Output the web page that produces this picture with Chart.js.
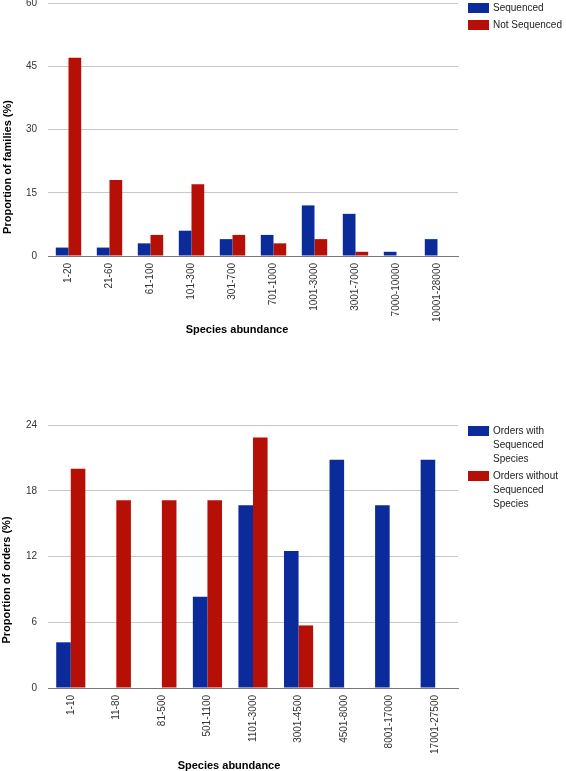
<!DOCTYPE html>
<html>
<head>
<meta charset="utf-8">
<script src="https://cdn.jsdelivr.net/npm/chart.js@4"></script>
<style>
  body { margin: 0; background: #fff; font-family: "Liberation Sans", Arial, sans-serif; }
  #page { position: relative; width: 566px; height: 771px; overflow: hidden; }
  canvas { position: absolute; left: 0; }
  .ytitle, .xtitle { position: absolute; font-weight: bold; font-size: 11px; color: #000; white-space: nowrap; }
  .ytitle { transform: translate(-50%, -50%) rotate(-90deg); }
  .xtitle { transform: translate(-50%, -50%); }
  .legend { position: absolute; left: 468px; font-size: 10px; color: #222; }
  .legend .item { position: relative; padding-left: 25px; line-height: 14px; }
  .legend .swatch { position: absolute; left: 0; top: 2px; width: 21px; height: 10px; }
</style>
</head>
<body>
<div id="page">
  <canvas id="families" width="566" height="359" style="top:-14px"></canvas>
  <canvas id="orders" width="566" height="371" style="top:400px"></canvas>

  <div class="ytitle" style="left:7px; top:167px">Proportion of families (%)</div>
  <div class="xtitle" style="left:237px; top:329px">Species abundance</div>
  <div class="legend" style="top:1px">
    <div class="item" style="margin-bottom:3px"><span class="swatch" style="background:#0c2b9b"></span>Sequenced</div>
    <div class="item"><span class="swatch" style="background:#b50f06"></span>Not Sequenced</div>
  </div>

  <div class="ytitle" style="left:6px; top:580px">Proportion of orders (%)</div>
  <div class="xtitle" style="left:229px; top:765px">Species abundance</div>
  <div class="legend" style="top:424px">
    <div class="item" style="margin-bottom:3px"><span class="swatch" style="background:#0c2b9b"></span>Orders with<br>Sequenced<br>Species</div>
    <div class="item"><span class="swatch" style="background:#b50f06"></span>Orders without<br>Sequenced<br>Species</div>
  </div>
</div>

<script>
const familyAbundance = ["1-20", "21-60", "61-100", "101-300", "301-700", "701-1000", "1001-3000", "3001-7000", "7000-10000", "10001-28000"];
const familiesSequenced = [2, 2, 3, 6, 4, 5, 12, 10, 1, 4];
const familiesNotSequenced = [47, 18, 5, 17, 5, 3, 4, 1, 0, 0];

const orderAbundance = ["1-10", "11-80", "81-500", "501-1100", "1101-3000", "3001-4500", "4501-8000", "8001-17000", "17001-27500"];
const ordersWithSequenced = [4.17, 0, 0, 8.33, 16.67, 12.5, 20.83, 16.67, 20.83];
const ordersWithoutSequenced = [20, 17.14, 17.14, 17.14, 22.86, 5.71, 0, 0, 0];

const BLUE = "#0c2b9b";
const RED = "#b50f06";
const FONT = { family: "'Liberation Sans', Arial, sans-serif", size: 10 };

function makeChart(canvas, labels, blueData, redData, blueLabel, redLabel, opts) {
  return new Chart(canvas, {
    type: "bar",
    data: {
      labels: labels,
      datasets: [
        { label: blueLabel, data: blueData, backgroundColor: BLUE, categoryPercentage: opts.catPct, barPercentage: 1 },
        { label: redLabel, data: redData, backgroundColor: RED, categoryPercentage: opts.catPct, barPercentage: 1 },
      ],
    },
    options: {
      responsive: false,
      animation: false,
      layout: { padding: { top: opts.top, right: 108, bottom: 0, left: 0 } },
      plugins: { legend: { display: false }, tooltip: { enabled: false } },
      scales: {
        x: {
          grid: { display: false, drawTicks: false },
          border: { color: "#777", width: 1 },
          ticks: { font: FONT, color: "#333", minRotation: 90, maxRotation: 90, autoSkip: false, padding: 7 },
          afterFit(scale) { scale.height = opts.xHeight; },
        },
        y: {
          min: 0,
          max: opts.max,
          grid: { color: "#c8c8c8", drawTicks: false },
          border: { display: false },
          ticks: { font: FONT, color: "#333", stepSize: opts.step, padding: 11 },
          afterFit(scale) { scale.width = 48; },
        },
      },
    },
  });
}

makeChart(document.getElementById("families"), familyAbundance, familiesSequenced, familiesNotSequenced,
  "Sequenced", "Not Sequenced", { catPct: 0.62, top: 3, xHeight: 89, max: 60, step: 15 });

makeChart(document.getElementById("orders"), orderAbundance, ordersWithSequenced, ordersWithoutSequenced,
  "Orders with Sequenced Species", "Orders without Sequenced Species", { catPct: 0.64, top: 25, xHeight: 83, max: 24, step: 6 });
</script>
</body>
</html>
